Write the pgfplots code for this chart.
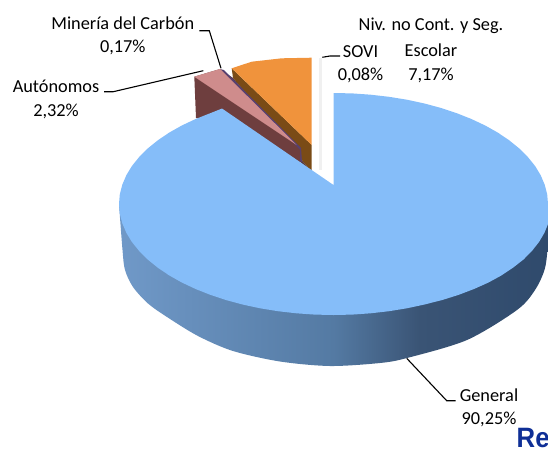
\documentclass[border=0pt]{standalone}
\usepackage{pgfplots}
\pgfplotsset{compat=1.18}
\usepackage{fontspec}
\setmainfont{Carlito}
\newfontfamily\arialfont{Liberation Sans}
\definecolor{topblue}{HTML}{85BDF9}
\definecolor{sA}{HTML}{7099C8}
\definecolor{sM}{HTML}{547AA3}
\definecolor{sD}{HTML}{3A5475}
\definecolor{sE}{HTML}{2F4A6C}
\definecolor{orangetop}{HTML}{F0933C}
\definecolor{orangeside}{HTML}{7A4B16}
\definecolor{pinktop}{HTML}{CF8C8C}
\definecolor{pinkside}{HTML}{6E3E3E}
\definecolor{sovi}{HTML}{574070}
\definecolor{gapdark}{HTML}{5A3A3A}
\definecolor{retitle}{HTML}{0F2F96}
\pgfdeclarehorizontalshading{sideshade}{100bp}{color(0bp)=(sA); color(25bp)=(sA); color(50bp)=(sM); color(60bp)=(sD); color(75bp)=(sE); color(100bp)=(sE)}
\newcommand{\lab}{\fontsize{18.3}{22}\selectfont}
\begin{document}
\begin{tikzpicture}
\clip (0,0) rectangle (548pt,450pt);
\begin{axis}[scale only axis, width=548pt, height=450pt, xmin=0, xmax=548, ymin=0, ymax=450, y dir=reverse, hide axis, clip=true]
% shadow beside the notch
\addplot[draw=none, fill=black!6] coordinates {(319,58)(322,58)(322,170)(319,170)} --cycle;
% Niv. no Cont. y Seg. Escolar 7,17%
\addplot[draw=none, fill=orangeside] coordinates {(231.7,68.3)(311.7,145)(311.7,172)(233,78)} --cycle;
\addplot[draw=none, fill=orangetop] coordinates {(231.7,68.3)(251.7,61.7)(281.7,58.3)(311.7,57.7)(311.7,145)} --cycle;
% dark band between the slices
\addplot[draw=none, fill=gapdark] coordinates {(224,72)(233,78)(311.7,172)(300,162)} --cycle;
% SOVI 0,08%
\addplot[draw=none, fill=sovi] coordinates {(220,69)(224,70)(301,148)(302,162)(296,160)} --cycle;
% Autonomos 2,32%
\addplot[draw=none, fill=pinkside] coordinates {(194.3,76.7)(220,69)(300,150)(300,162)(222,122)(196,118)} --cycle;
\addplot[draw=none, fill=pinktop] coordinates {(194.3,76.7)(220,69)(296.7,145)} --cycle;
% General 90,25% side
\addplot[draw=none, smooth, shade, shading=sideshade] coordinates {
(119,204)(122.5,250)(125,270)(133,287)(148,303.5)(167,317)(198,336)(233,351)(280,361.5)(330,366)(380,363)(407,358)(467,340)(517,310)(535,290)(545,268)(548,240)(548,204)
} --cycle;
% General 90,25% top
\addplot[draw=none, fill=topblue] coordinates {
(333.5,185)(333.5,93)(352.2,93.4)(370.7,94.7)(389,96.8)(406.9,99.7)(424.1,103.4)(440.8,107.9)(456.5,113.1)(471.4,119)(485.2,125.5)(497.8,132.6)(509.2,140.3)(519.3,148.5)(527.9,157.1)(535.1,166)(540.7,175.3)(544.7,184.7)(547.2,194.3)(548,204)
(548,213.7)(548,224)(544.5,232.7)(539,242)(532,250.9)(523.5,259.5)(513,267.7)(501.5,275.4)(488.5,282.5)(474,289)(458.5,294.9)(442,300.1)(424.1,304.6)(406.9,308.3)(389,311.2)(370.7,313.3)(352.2,314.6)(333.5,315)
(314.8,314.6)(296.3,313.3)(278,311.2)(260.1,308.3)(242.9,304.6)(226.2,300.1)(210.5,294.9)(195.6,289)(181.8,282.5)(169.2,275.4)(157.8,267.7)(147.7,259.5)(139.1,250.9)(131.9,242)(126.3,232.7)(122.3,223.3)(119.8,213.7)(119,204)
(119.8,194.3)(122.3,184.7)(126.3,175.3)(131.9,166)(139.1,157.1)(147.7,148.5)(157.8,140.3)(169.2,132.6)(181.8,125.5)(195.6,119)(210.5,113.1)(222,108.5)
} --cycle;
% leaders
\addplot[black, line width=1.1pt] coordinates {(199.3,30.7)(209.3,30.7)(221,68.3)};
\addplot[black, line width=1.1pt] coordinates {(104,91.7)(113.3,91.7)(203.3,70.7)};
\addplot[black, line width=1.1pt] coordinates {(322.3,57.3)(330,56)(340,56)};
\addplot[black, line width=1.1pt] coordinates {(406.7,358.3)(446.7,400.7)(455.7,400.7)};
% labels
\node[inner sep=0pt, font=\lab] at (axis cs:122.8,23) {Minería del Carbón};
\node[inner sep=0pt, font=\lab] at (axis cs:122.8,47.7) {0,17\%};
\node[inner sep=0pt, font=\lab] at (axis cs:56,86) {Autónomos};
\node[inner sep=0pt, font=\lab] at (axis cs:56,111.7) {2,32\%};
\node[inner sep=0pt, font=\lab] at (axis cs:431,26) {Niv. no Cont. y Seg.};
\node[inner sep=0pt, font=\lab] at (axis cs:431,50) {Escolar};
\node[inner sep=0pt, font=\lab] at (axis cs:431,75) {7,17\%};
\node[inner sep=0pt, font=\lab] at (axis cs:360.5,52) {SOVI};
\node[inner sep=0pt, font=\lab] at (axis cs:360.5,75) {0,08\%};
\node[inner sep=0pt, font=\lab] at (axis cs:489,395) {General};
\node[inner sep=0pt, font=\lab] at (axis cs:489,419) {90,25\%};
\node[inner sep=0pt, anchor=base west, xscale=0.92, text=retitle, font=\arialfont\bfseries\fontsize{28}{30}\selectfont] at (axis cs:516.5,447) {Re};
\end{axis}
\end{tikzpicture}
\end{document}
